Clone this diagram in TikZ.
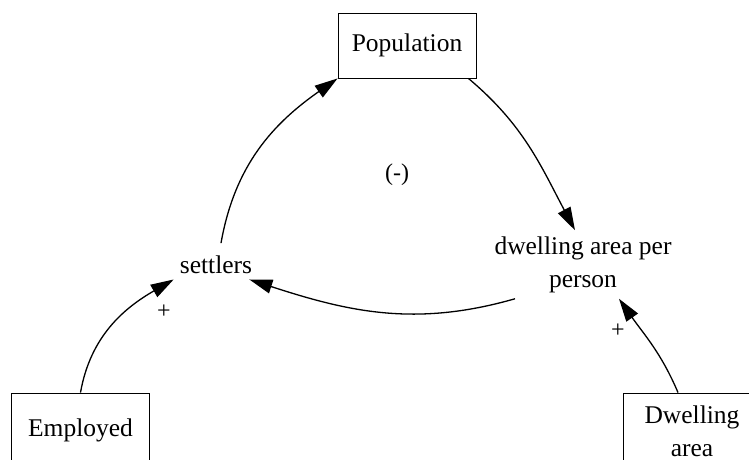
\documentclass[tikz,border=0pt]{standalone}
\usepackage{fontspec}
\setmainfont{Liberation Serif}
\usepackage{tikz}
\usetikzlibrary{arrows.meta, positioning}

\begin{document}
\begin{tikzpicture}[
  x=1pt, y=1pt,
  stock/.style={draw, rectangle, line width=0.9pt, minimum width=138pt, inner sep=0pt, align=center, font=\fontsize{25.5}{33}\selectfont},
  aux/.style={inner sep=6pt, align=center, font=\fontsize{25.5}{33}\selectfont},
  sign/.style={inner sep=0pt, font=\fontsize{24}{28}\selectfont},
  link/.style={line width=1.3pt, -{Triangle[length=23pt, width=14pt]}}
]
  \clip (0, 0) rectangle (749, 459);

  % Stocks
  \node[stock, minimum height=65pt] (pop) at (407, 413.5) {Population};
  \node[stock, minimum height=74pt] (emp) at (80.5, 29) {Employed};
  \node[stock, minimum height=76pt] (da) at (692, 28) {Dwelling\\area};

  % Auxiliaries
  \node[aux] (set) at (216, 194.7) {settlers};
  \node[aux] (dpp) at (583, 194.5) {dwelling area per\\person};

  % Loop and polarity labels
  \node[sign] (loop) at (397, 284) {(-)};
  \node[sign] (p1) at (164, 147) {+};
  \node[sign] (p2) at (618, 128) {+};

  % Links
  \draw[link] ([xshift=5pt, yshift=6pt]set.north) to[out=80, in=215] (pop.south west);
  \draw[link] ([xshift=-8pt]pop.south east) to[out=-40, in=118] ([xshift=-8pt]dpp.north);
  \draw[link] ([xshift=-68pt]dpp.south) to[out=196, in=-18] ([xshift=-9pt]set.south east);
  \draw[link] (emp.north) to[out=80, in=210] (set.south west);
  \draw[link] ([xshift=-14pt]da.north) to[out=113, in=-55] ([xshift=36pt]dpp.south);
\end{tikzpicture}
\end{document}
